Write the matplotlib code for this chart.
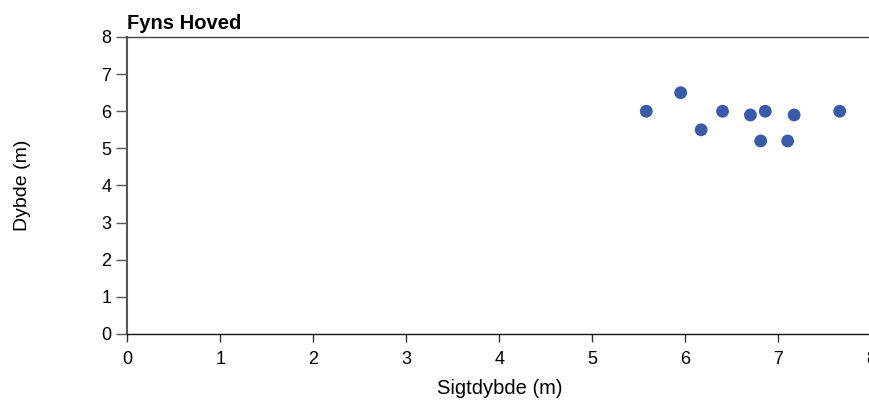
import matplotlib
matplotlib.use("Agg")
import matplotlib.pyplot as plt

plt.rcParams.update({
    "font.family": ["Liberation Sans", "DejaVu Sans"], "font.size": 13,
})

# Fyns Hoved: sigtdybde (m) vs dybde (m)
sigtdybde = [5.58, 5.95, 6.17, 6.40, 6.70, 6.86, 6.81, 7.10, 7.17, 7.66]
dybde = [6.0, 6.5, 5.5, 6.0, 5.9, 6.0, 5.2, 5.2, 5.9, 6.0]
x_ticks = [0, 1, 2, 3, 4, 5, 6, 7, 8]
y_ticks = [0, 1, 2, 3, 4, 5, 6, 7, 8]

fig = plt.figure(figsize=(8.7, 4), dpi=100)
ax = fig.add_axes([0.1465, 0.165, 0.855, 0.7425])

ax.scatter(sigtdybde, dybde, s=85, color="#3a5ba8", edgecolor="none", zorder=3)

ax.set_xlim(0, 8)
ax.set_ylim(0, 8)
ax.set_xticks(x_ticks)
ax.set_yticks(y_ticks)
ax.tick_params(axis="y", length=8, width=1, color="#555555", pad=3.5, labelsize=13)
ax.tick_params(axis="x", length=6, width=1, color="#333333", pad=6, labelsize=13)

ax.spines["right"].set_visible(False)
ax.spines["left"].set_color("#555555")
ax.spines["left"].set_linewidth(1.5)
ax.spines["top"].set_color("#444444")
ax.spines["top"].set_linewidth(1.0)
ax.spines["bottom"].set_color("#111111")
ax.spines["bottom"].set_linewidth(1.0)

ax.set_xlabel("Sigtdybde (m)", fontsize=14.5, labelpad=8)
ax.set_ylabel("Dybde (m)", fontsize=14, labelpad=51)
ax.set_title("Fyns Hoved", loc="left", fontweight="bold", fontsize=14.5, pad=6)

fig.savefig("out.png", dpi=100)
